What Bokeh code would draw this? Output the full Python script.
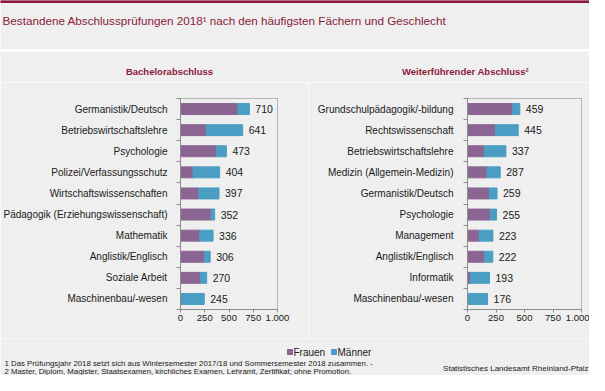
from bokeh.plotting import figure
from bokeh.layouts import column, row
from bokeh.models import Range1d, FixedTicker, ColumnDataSource
from bokeh.embed import file_html
from bokeh.resources import INLINE
from bokeh.core.properties import value

# ---------------- data ----------------
title_text = "Bestandene Abschlussprüfungen 2018¹ nach den häufigsten Fächern und Geschlecht"
left_title = "Bachelorabschluss"
right_title = "Weiterführender Abschluss²"

bach_subjects = ["Germanistik/Deutsch", "Betriebswirtschaftslehre", "Psychologie",
                 "Polizei/Verfassungsschutz", "Wirtschaftswissenschaften",
                 "Pädagogik (Erziehungswissenschaft)", "Mathematik", "Anglistik/Englisch",
                 "Soziale Arbeit", "Maschinenbau/-wesen"]
bach_total = [710, 641, 473, 404, 397, 352, 336, 306, 270, 245]
bach_frauen = [592, 266, 373, 130, 188, 315, 198, 247, 208, 13]

weit_subjects = ["Grundschulpädagogik/-bildung", "Rechtswissenschaft", "Betriebswirtschaftslehre",
                 "Medizin (Allgemein-Medizin)", "Germanistik/Deutsch", "Psychologie",
                 "Management", "Anglistik/Englisch", "Informatik", "Maschinenbau/-wesen"]
weit_total = [459, 445, 337, 287, 259, 255, 223, 222, 193, 176]
weit_frauen = [396, 244, 147, 171, 191, 200, 103, 147, 24, 6]

xticks = [0, 250, 500, 750, 1000]
xtick_labels = ["0", "250", "500", "750", "1.000"]
legend_labels = ["Frauen", "Männer"]
footnotes = ["1 Das Prüfungsjahr 2018 setzt sich aus Wintersemester 2017/18 und Sommersemester 2018 zusammen. -",
             "2 Master, Diplom, Magister, Staatsexamen, kirchliches Examen, Lehramt, Zertifikat; ohne Promotion."]
source_text = "Statistisches Landesamt Rheinland-Pfalz"

# ---------------- style ----------------
FONT = "Liberation Sans"
BG = "#eeefee"
RED = "#8b1a3a"
PURPLE = "#8b6592"
BLUE = "#4b9ec3"
TXT = "#1a1a1a"
W = 589
LEFT_W = 308
ROW_H = 256


def blank(height):
    f = figure(width=W, height=height, x_range=Range1d(0, W), y_range=Range1d(height, 0),
               output_backend="svg", toolbar_location=None, min_border=0,
               x_axis_location=None, y_axis_location=None)
    f.grid.visible = False
    f.outline_line_color = None
    f.background_fill_color = BG
    f.border_fill_color = BG
    return f


def panel(subjects, total, frauen, width, bl, br, bt, bb, standoff):
    n = len(subjects)
    idx = list(range(n))
    src = ColumnDataSource(dict(y=idx, f=frauen, t=total, lab=[str(v) for v in total]))
    p = figure(width=width, height=ROW_H, x_range=Range1d(0, 1000), y_range=Range1d(n - 0.5, -0.5),
               output_backend="svg", toolbar_location=None,
               min_border_left=bl, min_border_right=br, min_border_top=bt, min_border_bottom=bb)
    p.background_fill_color = BG
    p.border_fill_color = BG
    p.outline_line_color = "#b4b4b4"
    p.grid.visible = False
    p.hbar(y="y", left=0, right="f", height=0.52, color=PURPLE, source=src)
    p.hbar(y="y", left="f", right="t", height=0.52, color=BLUE, source=src)
    p.text(x="t", y="y", text="lab", x_offset=6, text_baseline="middle", text_align="left",
           text_font=value(FONT), text_font_size="10.5px", text_color=TXT, source=src)

    ya = p.yaxis[0]
    ya.ticker = FixedTicker(ticks=idx, minor_ticks=[i - 0.5 for i in range(n + 1)])
    ya.major_label_overrides = {i: s for i, s in enumerate(subjects)}
    ya.major_tick_out = 0
    ya.major_tick_in = 0
    ya.minor_tick_out = 4
    ya.minor_tick_in = 0
    ya.minor_tick_line_color = "#8c8c8c"
    ya.axis_line_color = "#8c8c8c"
    ya.major_label_standoff = standoff
    ya.major_label_text_font = FONT
    ya.major_label_text_font_size = "10px"
    ya.major_label_text_color = TXT

    xa = p.xaxis[0]
    xa.ticker = FixedTicker(ticks=xticks)
    xa.major_label_overrides = {t: s for t, s in zip(xticks, xtick_labels)}
    xa.major_tick_out = 3
    xa.major_tick_in = 0
    xa.minor_tick_out = 0
    xa.minor_tick_in = 0
    xa.major_tick_line_color = "#8c8c8c"
    xa.axis_line_color = "#8c8c8c"
    xa.major_label_standoff = 2
    xa.major_label_text_font = FONT
    xa.major_label_text_font_size = "9.5px"
    xa.major_label_text_color = TXT
    return p


# header (0..82)
HDR_H = 82
hdr = blank(HDR_H)
hdr.quad(left=[0], right=[W], top=[0], bottom=[2], color=RED)
hdr.quad(left=[0], right=[W], top=[49], bottom=[50.5], color="#ffffff")
hdr.text(x=[2], y=[20], text=[title_text], text_baseline="middle", text_align="left",
         text_font=value(FONT), text_font_size="11.7px", text_color=RED)
hdr.text(x=[169, 465], y=[70.7, 70.7], text=[left_title, right_title], text_baseline="middle",
         text_align="center", text_font=value(FONT), text_font_size="9.5px",
         text_font_style="bold", text_color=RED)

# panels (82..338)
pl = panel(bach_subjects, bach_total, bach_frauen, LEFT_W, 175, 31, 11, 29, 9)
pr = panel(weit_subjects, weit_total, weit_frauen, W - LEFT_W, 159, 8, 16, 22, 10)

# footer (338..375)
FTR_H = 375 - HDR_H - ROW_H
ftr = blank(FTR_H)
ftr.rect(x=[289.5, 333.5], y=[13.5, 13.5], width=5, height=5, color=[PURPLE, BLUE])
ftr.text(x=[293, 337], y=[13.5, 13.5], text=legend_labels, text_baseline="middle", text_align="left",
         text_font=value(FONT), text_font_size="10px", text_color=TXT)
ftr.text(x=[4, 4], y=[24.5, 33], text=footnotes, text_baseline="middle", text_align="left",
         text_font=value(FONT), text_font_size="7.8px", text_color=TXT)
ftr.text(x=[588], y=[30], text=[source_text], text_baseline="middle", text_align="right",
         text_font=value(FONT), text_font_size="8px", text_color=TXT)

layout = column(hdr, row(pl, pr), ftr)

open("out.html", "w").write(file_html(layout, INLINE))
